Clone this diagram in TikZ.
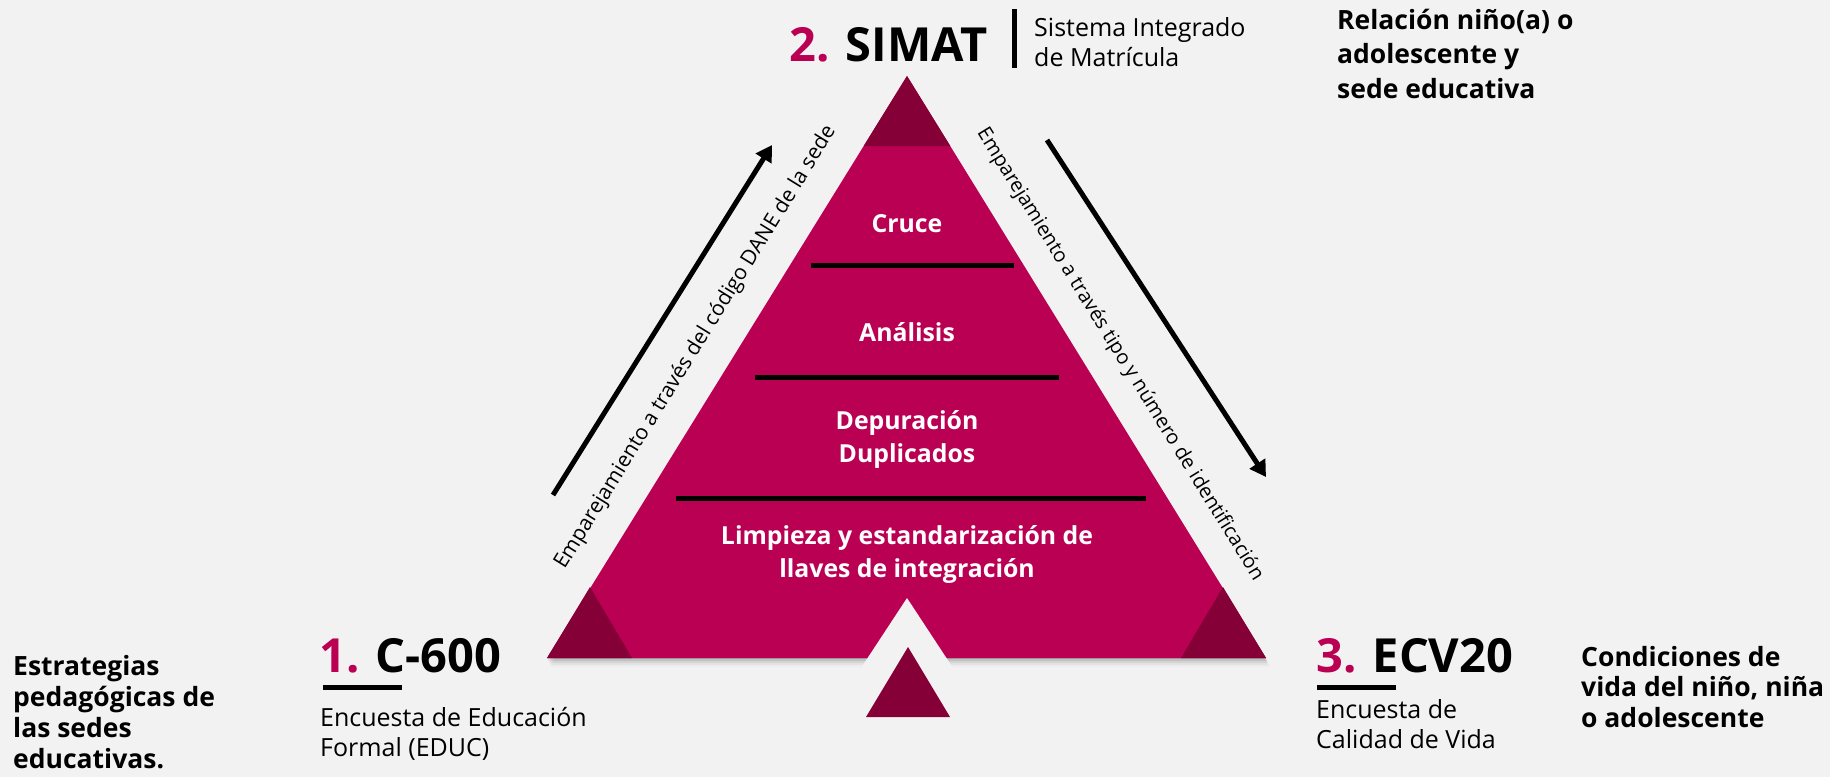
\documentclass[tikz,border=0pt]{standalone}
\usepackage{fontspec}
\setmainfont{Open Sans}
\usetikzlibrary{positioning,calc,arrows.meta}
\definecolor{fondo}{HTML}{F2F2F2}
\definecolor{rosa}{HTML}{BA0052}
\definecolor{rosaosc}{HTML}{850037}

\begin{document}
\begin{tikzpicture}[x=1pt, y=-1pt, every node/.style={inner sep=0pt},
  capa/.style={font=\fontsize{24.8}{32.5}\selectfont\bfseries, text=white, align=center, anchor=base},
  titulo/.style={font=\fontsize{47}{56}\selectfont\bfseries, anchor=base west},
  fuente/.style={font=\fontsize{25}{30}\selectfont, align=left, anchor=base west},
  nota/.style={font=\fontsize{26.5}{31}\selectfont\bfseries, align=left, anchor=base west},
  empareja/.style={font=\fontsize{20}{24}\selectfont},
  flecha/.style={line width=5pt, -{Triangle[length=16pt,width=18pt]}},
  raya/.style={line width=5pt}]
\fill[fondo] (0,0) rectangle (1830,777);
\useasboundingbox (0,0) rectangle (1830,777);

% piramide
\coordinate (apex) at (907,76);
\coordinate (bl) at (547,658);
\coordinate (br) at (1266,658);
\foreach \d/\o in {1/0.12,3/0.09,5/0.06,7/0.04,9/0.02}
  \fill[black, opacity=\o] ($(apex)+(\d*0.4,\d)$) -- ($(bl)+(\d*0.4,\d)$) -- ($(br)+(\d*0.4,\d)$) -- cycle;
\fill[rosa] (apex) -- (bl) -- (br) -- cycle;
\fill[rosaosc] (apex) -- (863.7,146) -- (950.3,146) -- cycle;
\fill[rosaosc] (bl) -- (590,587) -- (632,658) -- cycle;
\fill[rosaosc] (br) -- (1223,587) -- (1181,658) -- cycle;
\fill[fondo] (907,598) -- (861,668) -- (953,668) -- cycle;
\fill[rosaosc] (908,647) -- (866,717) -- (950,717) -- cycle;

% niveles
\draw[raya] (811,265) -- (1014,265);
\draw[raya] (755,377) -- (1059,377);
\draw[raya] (676,498) -- (1146,498);
\node[capa] (cruce) at (907,232) {Cruce};
\node[capa] (analisis) at (907,341) {Análisis};
\node[capa] (depura) at (907,462) {Depuración\\Duplicados};
\node[capa] (limpia) at (907,577) {Limpieza y estandarización de\\llaves de integración};

% emparejamientos
\coordinate (dane0) at (553,495);
\coordinate (dane1) at (772,145);
\coordinate (id0) at (1047,140);
\coordinate (id1) at (1266,477);
\draw[flecha] (dane0) -- (dane1);
\draw[flecha] (id0) -- (id1);
\node[empareja, font=\fontsize{21}{24}\selectfont, rotate=58.3] (danetxt) at ($(bl)!0.5!(apex)!37pt!90:(apex)$) {Emparejamiento a través del código DANE de la sede};
\node[empareja, rotate=-58.3] (idtxt) at ($(apex)!0.51!(br)!35pt!90:(br)$) {Emparejamiento a través tipo y número de identificación};

% fuentes
\node[titulo] (simat) at (789,61) {\textcolor{rosa}{2.} SIMAT};
\draw[raya] (1014,9) -- (1014,68);
\node[fuente] (simatdesc) at (1034,66) {Sistema Integrado\\de Matrícula};
\node[titulo] (c600) at (319,672) {\textcolor{rosa}{1.} C-600};
\draw[raya] (323,687) -- (402,687);
\node[fuente] (c600desc) at (320,756) {Encuesta de Educación\\Formal (EDUC)};
\node[titulo] (ecv) at (1316,672) {\textcolor{rosa}{3.} ECV20};
\draw[raya] (1317,687) -- (1396,687);
\node[fuente] (ecvdesc) at (1316,748) {Encuesta de\\Calidad de Vida};

% notas
\node[nota, font=\fontsize{26.5}{34.5}\selectfont\bfseries] (relacion) at (1337,98) {Relación niño(a) o\\adolescente y\\sede educativa};
\node[nota] (estrategias) at (13,768) {Estrategias\\pedagógicas de\\las sedes\\educativas.};
\node[nota, font=\fontsize{26.5}{30.5}\selectfont\bfseries] (condiciones) at (1581,727) {Condiciones de\\vida del niño, niña\\o adolescente};
\end{tikzpicture}
\end{document}
